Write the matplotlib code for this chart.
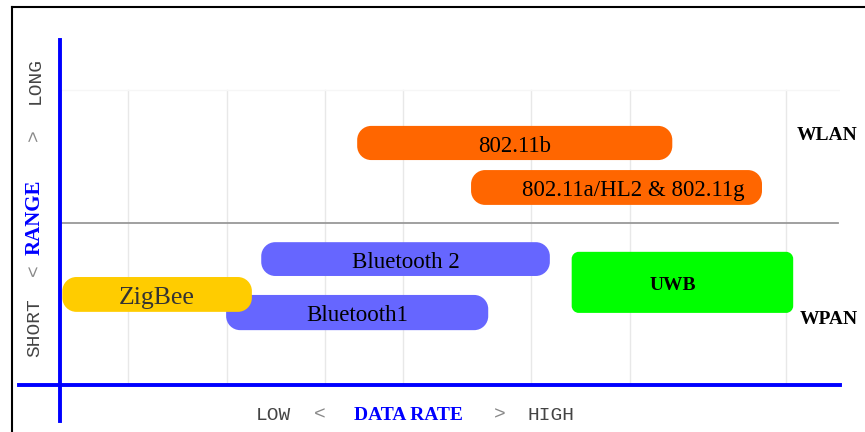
import matplotlib
matplotlib.use("Agg")
import matplotlib.pyplot as plt
from matplotlib.patches import PathPatch
from matplotlib.path import Path
from matplotlib.lines import Line2D

# wireless technologies: data rate (x) vs range (y), relative units 0-100
techs = ["802.11b", "802.11a/HL2 & 802.11g", "Bluetooth 2", "Bluetooth1", "ZigBee", "UWB"]
rate_lo = [38.1, 52.7, 25.8, 21.3, 0.3, 65.6]
rate_hi = [78.5, 90.0, 62.8, 54.9, 24.6, 94.0]
range_lo = [65.2, 52.2, 31.6, 15.9, 21.2, 20.9]
range_hi = [75.1, 62.3, 41.4, 26.1, 31.3, 38.6]
colors = ["#FF6600", "#FF6600", "#6666FF", "#6666FF", "#FFCC00", "#00FF00"]
grid_x = [8.7, 21.4, 34.0, 44.0, 60.4, 73.1, 93.1]
split_y = 47.0
groups = ["WLAN", "WPAN"]

W, H = 865, 432
fig = plt.figure(figsize=(W / 100, H / 100), dpi=100)
fig.patch.set_facecolor("white")

def fx(px):
    return px / W

def fy(py):
    return 1 - py / H

# plot area
ax = fig.add_axes([fx(60), fy(385), fx(780), 345 / H])
ax.set_xlim(0, 100)
ax.set_ylim(0, 100)
ax.axis("off")

px_x = 780 / 100   # pixels per x unit
px_y = 345 / 100   # pixels per y unit


def rounded_box(x0, y0, x1, y1, r_px):
    # rounded rectangle with circular corners (cubic bezier), radius in pixels
    rx = r_px / px_x
    ry = r_px / px_y
    k = 0.5523
    verts = [
        (x0 + rx, y0), (x1 - rx, y0),
        (x1 - rx + k * rx, y0), (x1, y0 + ry - k * ry), (x1, y0 + ry),
        (x1, y1 - ry),
        (x1, y1 - ry + k * ry), (x1 - rx + k * rx, y1), (x1 - rx, y1),
        (x0 + rx, y1),
        (x0 + rx - k * rx, y1), (x0, y1 - ry + k * ry), (x0, y1 - ry),
        (x0, y0 + ry),
        (x0, y0 + ry - k * ry), (x0 + rx - k * rx, y0), (x0 + rx, y0),
        (x0 + rx, y0),
    ]
    codes = [Path.MOVETO, Path.LINETO,
             Path.CURVE4, Path.CURVE4, Path.CURVE4,
             Path.LINETO,
             Path.CURVE4, Path.CURVE4, Path.CURVE4,
             Path.LINETO,
             Path.CURVE4, Path.CURVE4, Path.CURVE4,
             Path.LINETO,
             Path.CURVE4, Path.CURVE4, Path.CURVE4,
             Path.CLOSEPOLY]
    return Path(verts, codes)


for gx in grid_x:
    ax.plot([gx, gx], [0, 85.5], color="#e8e8e8", lw=1, zorder=0)
ax.plot([0, 100], [85.5, 85.5], color="#f6f6f6", lw=1, zorder=0)
ax.plot([0, 99.7], [split_y, split_y], color="#999999", lw=1.3, zorder=1)

for i, name in enumerate(techs):
    x0, x1 = rate_lo[i], rate_hi[i]
    y0, y1 = range_lo[i], range_hi[i]
    r_px = 7 if name == "UWB" else 14
    ax.add_patch(PathPatch(rounded_box(x0, y0, x1, y1, r_px),
                           fc=colors[i], ec="none", zorder=2))
    cx = (x0 + x1) / 2
    cy = (y0 + y1) / 2 - 0.9
    if name == "UWB":
        ax.text(cx - 1.2, cy, name, ha="center", va="center", fontsize=14,
                fontweight="bold", family="Liberation Serif", color="black", zorder=3)
    elif name == "ZigBee":
        ax.text(cx, cy, name, ha="center", va="center", fontsize=18.5,
                family="Liberation Serif", color="#333333", zorder=3)
    else:
        dx = 2.2 if name.startswith("802.11a") else 0
        ax.text(cx + dx, cy, name, ha="center", va="center", fontsize=16.5,
                family="Liberation Serif", color="black", zorder=3)

# group labels
fig.text(fx(827), fy(135), groups[0], ha="center", va="center", fontsize=14,
         fontweight="bold", family="Liberation Serif")
fig.text(fx(829), fy(320), groups[1], ha="center", va="center", fontsize=14,
         fontweight="bold", family="Liberation Serif")

# blue axes
fig.add_artist(Line2D([fx(60), fx(60)], [fy(40), fy(421)], color="#0000FF", lw=2.8))
fig.add_artist(Line2D([fx(19), fx(840)], [fy(385), fy(385)], color="#0000FF", lw=2.8))

# black frame
fig.add_artist(Line2D([fx(12), fx(12)], [fy(7), 0], color="black", lw=1.5))
fig.add_artist(Line2D([fx(12), 1], [fy(7), fy(7)], color="black", lw=1.5))

# x axis label
ly = fy(415)
fig.text(fx(273), ly, "LOW", ha="center", va="center", fontsize=14,
         family="Liberation Mono", color="#444444")
fig.text(fx(320), ly, "<", ha="center", va="center", fontsize=14,
         family="Liberation Mono", color="#888888")
fig.text(fx(408), ly, "DATA RATE", ha="center", va="center", fontsize=14,
         fontweight="bold", family="Liberation Serif", color="#0000FF")
fig.text(fx(500), ly, ">", ha="center", va="center", fontsize=14,
         family="Liberation Mono", color="#888888")
fig.text(fx(551), ly, "HIGH", ha="center", va="center", fontsize=14,
         family="Liberation Mono", color="#444444")

# y axis label
lx = fx(35)
fig.text(lx, fy(80), "LONG", ha="center", va="center", fontsize=14, rotation=90,
         family="Liberation Mono", color="#444444")
fig.text(lx, fy(135), ">", ha="center", va="center", fontsize=14, rotation=90,
         family="Liberation Mono", color="#888888")
fig.text(lx, fy(217), "RANGE", ha="center", va="center", fontsize=15, rotation=90,
         fontweight="bold", family="Liberation Serif", color="#0000FF")
fig.text(lx, fy(270), "<", ha="center", va="center", fontsize=14, rotation=90,
         family="Liberation Mono", color="#888888")
fig.text(lx, fy(328), "SHORT", ha="center", va="center", fontsize=14, rotation=90,
         family="Liberation Mono", color="#444444")

fig.savefig("out.png", dpi=100)
